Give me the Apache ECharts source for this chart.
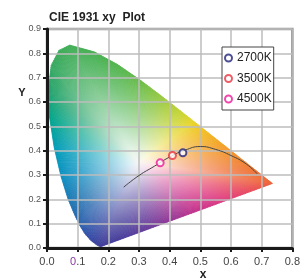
<!DOCTYPE html>
<html lang="en">
<head>
  <meta charset="UTF-8">
  <script src="https://cdn.jsdelivr.net/npm/echarts/dist/echarts.min.js"></script>
  <style>
    html, body { margin: 0; padding: 0; background: #fff; }
    #chart { width: 303px; height: 280px; }
  </style>
</head>
<body>
  <div id="chart"></div>
  <script>
    // spectral locus (380nm -> 700nm)
    const locusX = [0.1741, 0.1644, 0.1440, 0.1241, 0.1096, 0.0913, 0.0687, 0.0454, 0.0235, 0.0082,
                    0.0039, 0.0139, 0.0389, 0.0743, 0.1547, 0.2296, 0.3016, 0.3731, 0.4441, 0.4788,
                    0.5125, 0.5752, 0.6270, 0.6658, 0.6915, 0.7190, 0.7347];
    const locusY = [0.0050, 0.0109, 0.0297, 0.0578, 0.0868, 0.1327, 0.2007, 0.2950, 0.4127, 0.5384,
                    0.6548, 0.7502, 0.8120, 0.8338, 0.8059, 0.7543, 0.6923, 0.6245, 0.5547, 0.5202,
                    0.4866, 0.4242, 0.3725, 0.3340, 0.3083, 0.2809, 0.2653];
    // Planckian curve drawn through the plot
    const curveX = [0.25, 0.30, 0.35, 0.40, 0.45, 0.50, 0.55, 0.60, 0.65, 0.685];
    const curveY = [0.25, 0.298, 0.336, 0.374, 0.402, 0.417, 0.405, 0.38, 0.345, 0.305];
    // measured points
    const pointNames = ['2700K', '3500K', '4500K'];
    const pointX = [0.443, 0.409, 0.369];
    const pointY = [0.391, 0.380, 0.350];

    // colours along the outline (same order as the locus), then the purple line 700nm -> 380nm
    const locusColors = ['#3b3a98', '#3a3e9c', '#3446a2', '#2f52a8', '#2a5cab', '#2468ae', '#1a78b4', '#0a8fc2',
                         '#009cb8', '#00a48a', '#20a26a', '#34a860', '#3aaa58', '#40ad55', '#44b050', '#50b44c',
                         '#68bc48', '#94c840', '#c8d430', '#e6d424', '#f2c020', '#f3a024', '#f28a2c', '#f07a30',
                         '#ef7032', '#ef6834', '#ee6236'];
    const purpleColors = ['#ee6236', '#e84860', '#de3a80', '#c8308a', '#9a3694', '#6a3a9a', '#4a3c9a', '#3b3a98'];
    const pointColors = ['#22237a', '#ea3440', '#ec1a98'];
    const whiteX = 0.30, whiteY = 0.35;

    function hexToRgb(h) {
      const n = parseInt(h.slice(1), 16);
      return [(n >> 16) & 255, (n >> 8) & 255, n & 255];
    }
    function mix(a, b, t) {
      const ca = hexToRgb(a), cb = hexToRgb(b);
      const c = ca.map((v, i) => Math.round(v + (cb[i] - v) * t));
      return 'rgb(' + c.join(',') + ')';
    }
    function mixRgb(rgbStr, t) {
      // blend rgb(...) towards white
      const c = rgbStr.match(/\d+/g).map(Number).map(v => Math.round(v + (255 - v) * t));
      return 'rgb(' + c.join(',') + ')';
    }
    const lerp = (a, b, t) => [a[0] + (b[0] - a[0]) * t, a[1] + (b[1] - a[1]) * t];

    function renderLocus(params, api) {
      const pts = locusX.map((x, i) => api.coord([x, locusY[i]]));
      const W = api.coord([whiteX, whiteY]);
      const edges = [];
      for (let i = 0; i < pts.length - 1; i++) {
        edges.push([pts[i], pts[i + 1], locusColors[i], locusColors[i + 1]]);
      }
      const pa = pts[pts.length - 1], pb = pts[0];
      const m = purpleColors.length - 1;
      for (let k = 0; k < m; k++) {
        edges.push([lerp(pa, pb, k / m), lerp(pa, pb, (k + 1) / m), purpleColors[k], purpleColors[k + 1]]);
      }
      const children = [];
      edges.forEach(([a, b, ca, cb]) => {
        const len = Math.hypot(b[0] - a[0], b[1] - a[1]);
        const steps = Math.max(1, Math.ceil(len / 2));
        for (let s = 0; s < steps; s++) {
          const p = lerp(a, b, s / steps), q = lerp(a, b, (s + 1) / steps);
          const c = mix(ca, cb, (s + 0.5) / steps);
          const mid = lerp(p, q, 0.5);
          const grad = {
            type: 'linear', x: W[0], y: W[1], x2: mid[0], y2: mid[1], global: true,
            colorStops: [
              { offset: 0, color: '#f8f6f6' },
              { offset: 0.12, color: mixRgb(c, 0.85) },
              { offset: 0.4, color: mixRgb(c, 0.55) },
              { offset: 0.72, color: mixRgb(c, 0.24) },
              { offset: 1, color: c }
            ]
          };
          children.push({
            type: 'polygon',
            shape: { points: [W, p, q] },
            style: { fill: grad, stroke: grad, lineWidth: 0.8 }
          });
        }
      });
      return { type: 'group', children: children };
    }

    const font = "'Liberation Sans', Arial, sans-serif";
    const chart = echarts.init(document.getElementById('chart'));
    chart.setOption({
      animation: false,
      textStyle: { fontFamily: font },
      title: {
        text: 'CIE 1931 xy  Plot', left: 44, top: 7,
        textStyle: { fontSize: 12, fontWeight: 'bold', color: '#222', fontFamily: font }
      },
      grid: {
        left: 47, top: 29, width: 247, height: 219,
        show: true, borderColor: '#999', borderWidth: 2.5
      },
      legend: {
        orient: 'vertical', left: 222, top: 47,
        padding: [4, 2, 4, 2], itemGap: 6.5,
        itemWidth: 7, itemHeight: 7,
        backgroundColor: '#fff', borderColor: '#444', borderWidth: 1, borderRadius: 0,
        textStyle: { fontSize: 12, color: '#222', fontFamily: font, lineHeight: 14 },
        data: pointNames.map(n => ({ name: n, icon: 'emptyCircle', itemStyle: { borderWidth: 1.2 } }))
      },
      xAxis: {
        type: 'value', min: 0, max: 0.8, interval: 0.1, z: 3,
        axisLine: { lineStyle: { color: '#1a1a1a', width: 3 } },
        axisTick: { show: true, length: 4, lineStyle: { color: '#1a1a1a', width: 2 } },
        axisLabel: {
          fontSize: 11, color: '#444', margin: 8,
          formatter: v => Math.abs(v - 0.1) < 1e-9 ? '{p|0}.1' : v.toFixed(1),
          rich: { p: { color: '#8a3aa0', fontSize: 11 } }
        },
        splitLine: { show: true, lineStyle: { color: '#bdbdbd', width: 1.5 } }
      },
      yAxis: {
        type: 'value', min: 0, max: 0.9, interval: 0.1, z: 3,
        axisLine: { show: true, lineStyle: { color: '#1a1a1a', width: 3 } },
        axisTick: { show: true, length: 4, lineStyle: { color: '#1a1a1a', width: 2 } },
        axisLabel: { fontSize: 9, color: '#555', margin: 6, formatter: v => v.toFixed(1) },
        splitLine: { show: true, lineStyle: { color: '#bdbdbd', width: 1.5 } }
      },
      graphic: [
        { type: 'text', x: 22, y: 93, style: { text: 'Y', font: 'bold 11px ' + font, fill: '#222', textAlign: 'center', textVerticalAlign: 'middle' } },
        { type: 'text', x: 203, y: 275, style: { text: 'x', font: 'bold 12px ' + font, fill: '#222', textAlign: 'center', textVerticalAlign: 'middle' } }
      ],
      series: [
        {
          type: 'custom', coordinateSystem: 'cartesian2d', silent: true, z: 1, clip: false,
          renderItem: renderLocus, data: [[0, 0]]
        },
        {
          type: 'line', smooth: true, symbol: 'none', z: 5, silent: true,
          lineStyle: { color: '#444', width: 1 },
          data: curveX.map((x, i) => [x, curveY[i]])
        }
      ].concat(pointNames.map((n, i) => ({
        name: n, type: 'scatter', symbol: 'emptyCircle', symbolSize: 7, z: 6,
        itemStyle: { color: pointColors[i], borderWidth: 1.5 },
        data: [[pointX[i], pointY[i]]]
      })))
    });
  </script>
</body>
</html>
